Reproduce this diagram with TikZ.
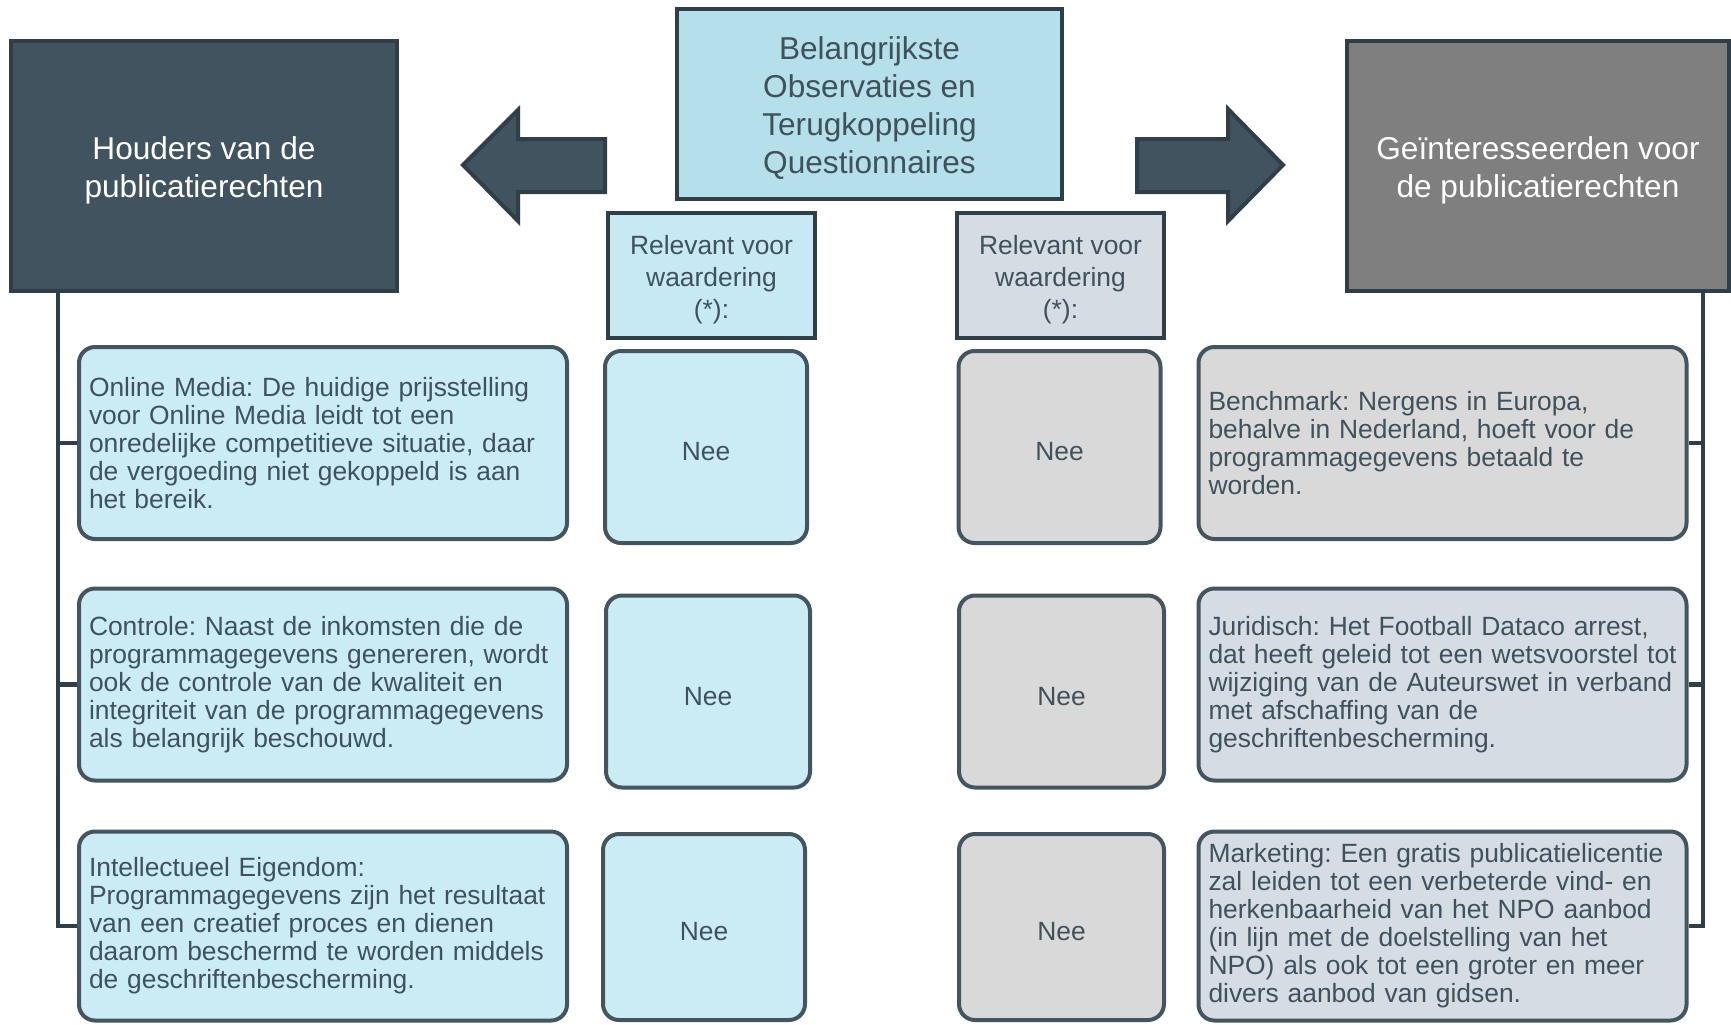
\documentclass[tikz,border=0pt]{standalone}
\usepackage{fontspec}
\setmainfont{Liberation Sans}
\usepackage{tikz}
\usetikzlibrary{calc}
\frenchspacing
\definecolor{slate}{HTML}{41535E}
\definecolor{edgedark}{HTML}{2F3E47}
\definecolor{edgeround}{HTML}{44555F}
\definecolor{txt}{HTML}{3F515C}
\definecolor{obsfill}{HTML}{B4DFEB}
\definecolor{relfill}{HTML}{C6E9F3}
\definecolor{lbfill}{HTML}{CCECF5}
\definecolor{rbfill}{HTML}{D6DCE4}
\definecolor{neegray}{HTML}{D9D9D9}
\definecolor{headgray}{HTML}{7F7F7F}
% taller first line pushes the text block a little lower
\newcommand{\hdlift}{\rule{0pt}{15.7pt}}
\newcommand{\rellift}{\rule{0pt}{13.9pt}}
\tikzstyle{head}=[draw=edgedark, line width=2pt, minimum width=193pt, minimum height=125pt, text=white, align=center, font=\fontsize{15.8}{19}\selectfont]
\tikzstyle{rel}=[draw=edgedark, line width=2pt, minimum width=103.5pt, minimum height=62.5pt, text=txt, align=center, font=\fontsize{13.2}{16}\selectfont]
\tikzstyle{nee}=[draw=edgeround, line width=2pt, rounded corners=8pt, minimum width=101pt, minimum height=96pt, text=txt, font=\fontsize{13.2}{16}\selectfont, text height=13.9pt, text depth=0pt]
\tikzstyle{obsbox}=[draw=edgeround, line width=2pt, rounded corners=8pt, minimum width=244pt, minimum height=96pt, text width=234pt, inner xsep=5pt, align=left, text=txt, font=\fontsize{13.2}{14}\selectfont]
\tikzstyle{spine}=[draw=edgedark, line width=2.2pt]
\tikzstyle{blockarrow}=[fill=slate, draw=edgedark, line width=2pt]

\begin{document}
\begin{tikzpicture}[x=0.5pt,y=-0.5pt]
    \useasboundingbox (0,0) rectangle (1731,1024);
    \fill[white] (0,0) rectangle (1731,1024);
    % top row
    \node [head, fill=slate] (hold) at (204,166) {\hdlift Houders van de\\publicatierechten};
    \node [head, fill=headgray, minimum width=191pt] (geint) at (1538,166) {\hdlift Geïnteresseerden voor\\de publicatierechten};
    \node [head, fill=obsfill, text=txt, minimum width=192.5pt, minimum height=95pt] (obs) at (869.5,104) {\hdlift Belangrijkste\\Observaties en\\Terugkoppeling\\Questionnaires};
    \node [rel, fill=relfill] (relL) at (711.5,275.5) {\rellift Relevant voor\\waardering\\(*):};
    \node [rel, fill=rbfill] (relR) at (1060.5,275.5) {\rellift Relevant voor\\waardering\\(*):};
    % block arrows
    \draw [blockarrow] (605,139) -- (518,139) -- (518,110) -- (463,165) -- (518,221) -- (518,192) -- (605,192) -- cycle;
    \draw [blockarrow] (1137,139) -- (1228,139) -- (1228,109) -- (1283,165) -- (1228,221) -- (1228,192) -- (1137,192) -- cycle;
    % left column
    \node [obsbox, fill=lbfill] (lt1) at (323,443) {Online Media: De huidige prijsstelling\\voor Online Media leidt tot een\\onredelijke competitieve situatie, daar\\de vergoeding niet gekoppeld is aan\\het bereik.};
    \node [obsbox, fill=lbfill] (lt2) at (323,684.5) {Controle: Naast de inkomsten die de\\programmagegevens genereren, wordt\\ook de controle van de kwaliteit en\\integriteit van de programmagegevens\\als belangrijk beschouwd.};
    \node [obsbox, fill=lbfill, minimum height=94.5pt] (lt3) at (323,926) {Intellectueel Eigendom:\\Programmagegevens zijn het resultaat\\van een creatief proces en dienen\\daarom beschermd te worden middels\\de geschriftenbescherming.};
    \node [nee, fill=lbfill] (nl1) at (706,447) {Nee};
    \node [nee, fill=lbfill, minimum width=102pt] (nl2) at (708,691.5) {Nee};
    \node [nee, fill=lbfill, minimum height=93pt] (nl3) at (704,927) {Nee};
    % right column
    \node [nee, fill=neegray] (nr1) at (1059.5,447) {Nee};
    \node [nee, fill=neegray, minimum width=102.5pt] (nr2) at (1061.5,691.5) {Nee};
    \node [nee, fill=neegray, minimum width=102.5pt, minimum height=93pt] (nr3) at (1061.5,927) {Nee};
    \node [obsbox, fill=neegray] (rt1) at (1442.5,443) {Benchmark: Nergens in Europa,\\behalve in Nederland, hoeft voor de\\programmagegevens betaald te\\worden.};
    \node [obsbox, fill=rbfill] (rt2) at (1442.5,684.5) {Juridisch: Het Football Dataco arrest,\\\mbox{dat heeft geleid tot een wetsvoorstel tot}\\wijziging van de Auteurswet in verband\\met afschaffing van de\\geschriftenbescherming.};
    \node [obsbox, fill=rbfill, minimum height=94.5pt] (rt3) at (1442.5,926) {Marketing: Een gratis publicatielicentie\\zal leiden tot een verbeterde vind- en\\herkenbaarheid van het NPO aanbod\\(in lijn met de doelstelling van het\\NPO) als ook tot een groter en meer\\divers aanbod van gidsen.};
    % tree lines
    \coordinate (ls) at ([xshift=24.5pt]hold.south west);
    \coordinate (rs) at ([xshift=179pt]geint.south west);
    \draw [spine] (ls) |- (lt3.west);
    \draw [spine] (lt1.west) -- (lt1.west -| ls);
    \draw [spine] (lt2.west) -- (lt2.west -| ls);
    \draw [spine] (rs) |- (rt3.east);
    \draw [spine] (rt1.east) -- (rt1.east -| rs);
    \draw [spine] (rt2.east) -- (rt2.east -| rs);
\end{tikzpicture}
\end{document}
